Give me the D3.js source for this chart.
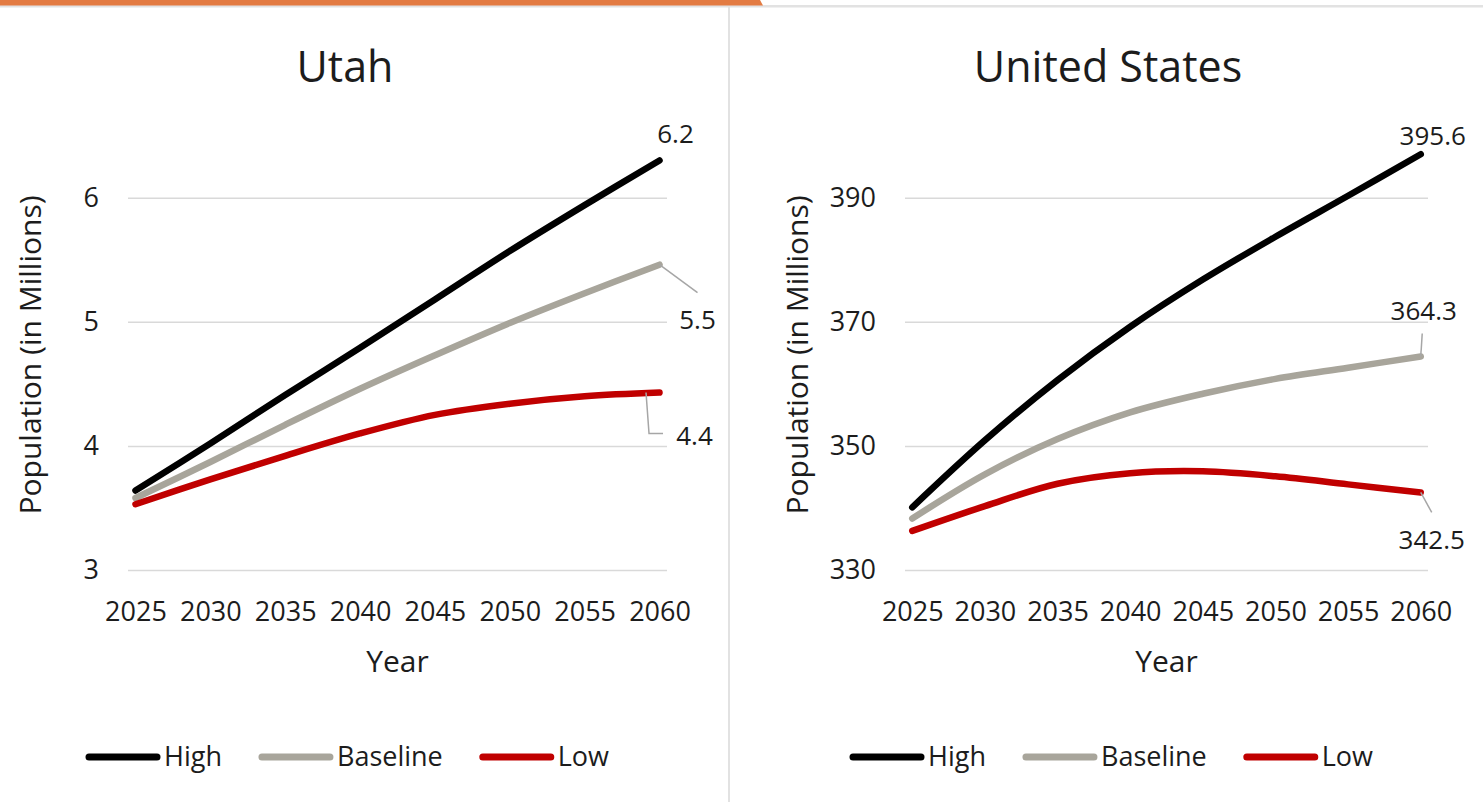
<!DOCTYPE html>
<html>
<head>
<meta charset="utf-8">
<script src="https://cdn.jsdelivr.net/npm/d3@7"></script>
<style>
  html, body { margin: 0; padding: 0; background: #fff; }
  svg { display: block; font-family: "Open Sans", "Noto Sans", sans-serif; }
</style>
</head>
<body>
<svg id="chart" width="1483" height="802"></svg>
<script>
// ---------------- DATA ----------------
const years = [2025, 2030, 2035, 2040, 2045, 2050, 2055, 2060];
const xTickLabels = ["2025", "2030", "2035", "2040", "2045", "2050", "2055", "2060"];
const seriesNames = ["High", "Baseline", "Low"];

const utahHigh     = [3.64, 4.02, 4.41, 4.79, 5.18, 5.57, 5.94, 6.30];
const utahBaseline = [3.58, 3.87, 4.17, 4.46, 4.73, 4.99, 5.23, 5.46];
const utahLow      = [3.53, 3.73, 3.92, 4.10, 4.25, 4.34, 4.40, 4.43];
const utahTicks    = [3, 4, 5, 6];
const utahEndLabels = ["6.2", "5.5", "4.4"];

const usHigh     = [340.1, 350.9, 360.6, 369.2, 376.8, 383.7, 390.3, 397.0];
const usBaseline = [338.3, 345.4, 351.1, 355.4, 358.4, 360.8, 362.6, 364.4];
const usLow      = [336.3, 340.3, 343.9, 345.6, 345.9, 345.1, 343.8, 342.5];
const usTicks    = [330, 350, 370, 390];
const usEndLabels = ["395.6", "364.3", "342.5"];

// ---------------- STYLE ----------------
const colors = { High: "#000000", Baseline: "#A8A59B", Low: "#C00000" };
const textColor = "#1c1c1c";
const svg = d3.select("#chart");

// page decorations
svg.append("rect").attr("x", 0).attr("y", 5).attr("width", 1483).attr("height", 2.5).attr("fill", "#e2e2e2");
svg.append("path").attr("d", "M0,0 L760,0 L763,5.5 L0,5.5 Z").attr("fill", "#E37B42");
svg.append("rect").attr("x", 728).attr("y", 7).attr("width", 2).attr("height", 795).attr("fill", "#e2e2e2");

function drawPanel(cfg) {
  const g = svg.append("g");
  const x = d3.scaleLinear().domain([2024.5, 2060.5]).range([cfg.left, cfg.right]);
  const y = d3.scaleLinear().domain(cfg.domain).range([570, 135.6]);

  // gridlines + y labels
  const yAxis = d3.axisLeft(y).tickValues(cfg.ticks).tickSize(-(cfg.right - cfg.left)).tickPadding(29)
    .tickFormat(d3.format("d"));
  const ya = g.append("g").attr("transform", `translate(${cfg.left},0)`).call(yAxis);
  ya.select(".domain").remove();
  ya.selectAll("line").attr("stroke", "#d9d9d9").attr("stroke-width", 1.5);
  ya.selectAll("text").attr("font-size", 27).attr("fill", textColor).attr("font-family", "Open Sans");

  // x labels
  const xAxis = d3.axisBottom(x).tickValues(years).tickSize(0).tickPadding(32)
    .tickFormat((d, i) => xTickLabels[i]);
  const xa = g.append("g").attr("transform", `translate(0,570)`).call(xAxis);
  xa.select(".domain").remove();
  xa.selectAll("text").attr("font-size", 27).attr("fill", textColor).attr("font-family", "Open Sans");

  // titles
  g.append("text").attr("x", cfg.titleX).attr("y", 82).attr("text-anchor", "middle")
    .attr("font-size", 43).attr("fill", textColor).text(cfg.title);
  g.append("text").attr("x", (cfg.left + cfg.right) / 2).attr("y", 661).attr("dy", "0.35em")
    .attr("text-anchor", "middle").attr("font-size", 30).attr("fill", textColor).text("Year");
  g.append("text").attr("transform", `translate(${cfg.yTitleX},355) rotate(-90)`).attr("dy", "0.35em")
    .attr("text-anchor", "middle").attr("font-size", 30).attr("fill", textColor).text("Population (in Millions)");

  // lines
  const line = d3.line().x((d, i) => x(years[i])).y(d => y(d)).curve(d3.curveCatmullRom.alpha(0.5));
  const seriesData = [cfg.high, cfg.baseline, cfg.low];
  seriesNames.forEach((name, k) => {
    g.append("path").datum(seriesData[k]).attr("d", line).attr("fill", "none")
      .attr("stroke", colors[name]).attr("stroke-width", 6.5)
      .attr("stroke-linecap", "round").attr("stroke-linejoin", "round");
  });

  // end labels
  const lastYear = years[years.length - 1];
  seriesNames.forEach((name, k) => {
    const vals = seriesData[k];
    const ex = x(lastYear), ey = y(vals[vals.length - 1]);
    const o = cfg.labelOffsets[k];
    if (o.leader) {
      g.append("polyline").attr("points", o.leader.map(p => [ex + p[0], ey + p[1]].join(",")).join(" "))
        .attr("fill", "none").attr("stroke", "#a6a6a6").attr("stroke-width", 1.5);
    }
    g.append("text").attr("x", ex + o.dx).attr("y", ey + o.dy).attr("dy", "0.35em")
      .attr("text-anchor", "middle").attr("font-size", 26).attr("fill", textColor)
      .text(cfg.endLabels[k]);
  });

  // legend
  const lg = g.append("g").attr("transform", `translate(${cfg.legendX},757)`);
  let cx = 0;
  seriesNames.forEach(name => {
    lg.append("line").attr("x1", cx + 3).attr("x2", cx + 71).attr("y1", 0).attr("y2", 0)
      .attr("stroke", colors[name]).attr("stroke-width", 7).attr("stroke-linecap", "round");
    const t = lg.append("text").attr("x", cx + 78).attr("y", 0).attr("dy", "0.35em")
      .attr("font-size", 27).attr("fill", textColor).text(name);
    cx += 78 + t.node().getComputedTextLength() + 37;
  });
}

drawPanel({
  left: 128, right: 667, domain: [3, 6.5], ticks: utahTicks, title: "Utah", titleX: 345,
  yTitleX: 30, legendX: 86,
  high: utahHigh, baseline: utahBaseline, low: utahLow, endLabels: utahEndLabels,
  labelOffsets: [
    { dx: 16, dy: -27 },
    { dx: 38, dy: 55, leader: [[0, 0], [38, 28]] },
    { dx: 35, dy: 43, leader: [[-13.5, 0], [-10.5, 41], [3.5, 41]] }
  ]
});

drawPanel({
  left: 905, right: 1428, domain: [330, 400], ticks: usTicks, title: "United States", titleX: 1108,
  yTitleX: 797, legendX: 850,
  high: usHigh, baseline: usBaseline, low: usLow, endLabels: usEndLabels,
  labelOffsets: [
    { dx: 12, dy: -18 },
    { dx: 3, dy: -46, leader: [[0, 0], [1.5, -23]] },
    { dx: 11, dy: 47, leader: [[0, 0], [11, 20]] }
  ]
});
</script>
</body>
</html>
